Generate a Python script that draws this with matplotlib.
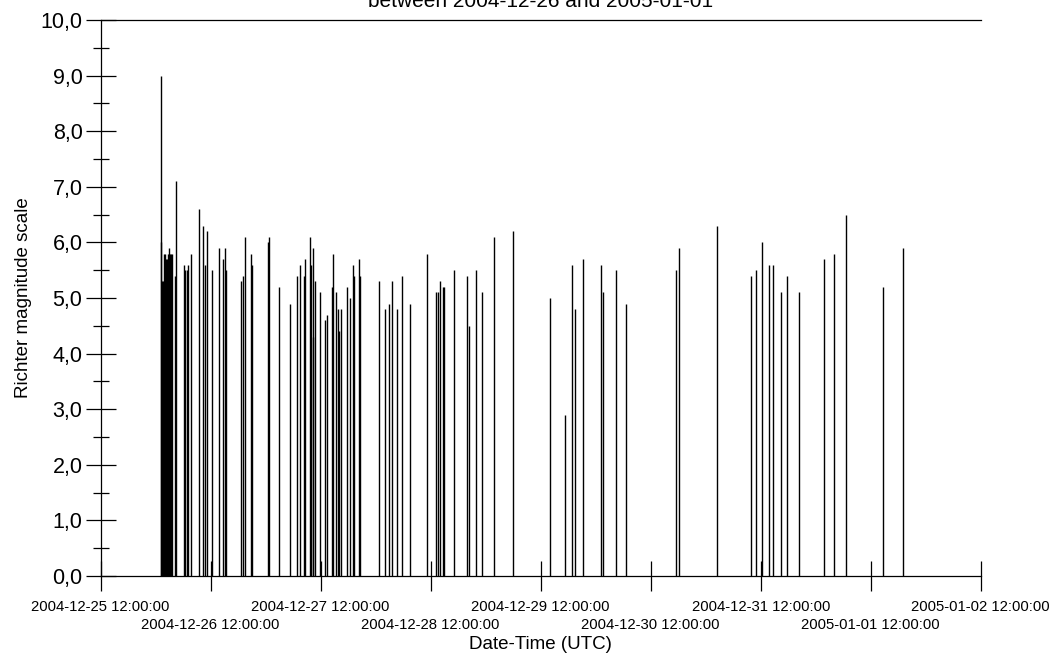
# -*- coding: utf-8 -*-
import matplotlib
matplotlib.use('Agg')
import matplotlib.pyplot as plt
import matplotlib.dates as mdates
from matplotlib.ticker import MultipleLocator
import numpy as np
from datetime import datetime

# event times (UTC) and magnitudes
times = [
	"2004-12-26 01:11", "2004-12-26 01:17", "2004-12-26 01:30", "2004-12-26 01:43",
	"2004-12-26 01:54", "2004-12-26 02:03", "2004-12-26 02:16", "2004-12-26 02:29",
	"2004-12-26 02:38", "2004-12-26 02:49", "2004-12-26 02:59", "2004-12-26 03:08",
	"2004-12-26 03:17", "2004-12-26 03:28", "2004-12-26 04:14", "2004-12-26 04:27",
	"2004-12-26 06:08", "2004-12-26 06:25", "2004-12-26 06:47", "2004-12-26 07:08",
	"2004-12-26 07:47", "2004-12-26 09:24", "2004-12-26 10:16", "2004-12-26 10:50",
	"2004-12-26 11:08", "2004-12-26 12:14", "2004-12-26 13:53", "2004-12-26 14:42",
	"2004-12-26 15:04", "2004-12-26 15:17", "2004-12-26 18:34", "2004-12-26 19:08",
	"2004-12-26 19:26", "2004-12-26 20:52", "2004-12-26 21:05",
	"2004-12-27 00:27", "2004-12-27 00:44", "2004-12-27 02:59", "2004-12-27 05:15",
	"2004-12-27 06:47", "2004-12-27 07:34", "2004-12-27 08:18", "2004-12-27 08:31",
	"2004-12-27 09:37", "2004-12-27 09:50", "2004-12-27 10:16", "2004-12-27 10:24",
	"2004-12-27 10:50", "2004-12-27 11:56", "2004-12-27 12:57", "2004-12-27 13:27",
	"2004-12-27 14:25", "2004-12-27 14:38", "2004-12-27 15:17", "2004-12-27 15:43",
	"2004-12-27 15:56", "2004-12-27 16:23", "2004-12-27 17:41", "2004-12-27 18:20",
	"2004-12-27 19:07", "2004-12-27 19:20", "2004-12-27 20:18", "2004-12-27 20:31",
	"2004-12-28 00:40", "2004-12-28 02:02", "2004-12-28 02:51", "2004-12-28 03:30",
	"2004-12-28 04:35", "2004-12-28 05:41", "2004-12-28 07:29", "2004-12-28 11:16",
	"2004-12-28 13:10", "2004-12-28 13:40", "2004-12-28 14:02", "2004-12-28 14:38",
	"2004-12-28 14:50", "2004-12-28 17:05", "2004-12-28 19:52", "2004-12-28 20:26",
	"2004-12-28 21:49", "2004-12-28 23:12",
	"2004-12-29 01:45", "2004-12-29 05:54", "2004-12-29 13:58", "2004-12-29 17:18",
	"2004-12-29 18:46", "2004-12-29 19:33", "2004-12-29 21:10",
	"2004-12-30 01:05", "2004-12-30 01:40", "2004-12-30 04:26", "2004-12-30 06:41",
	"2004-12-30 17:31", "2004-12-30 18:07",
	"2004-12-31 02:24", "2004-12-31 09:53", "2004-12-31 11:02", "2004-12-31 12:13",
	"2004-12-31 13:48", "2004-12-31 14:37", "2004-12-31 16:22", "2004-12-31 17:44",
	"2004-12-31 20:21",
	"2005-01-01 01:48", "2005-01-01 04:03", "2005-01-01 06:32", "2005-01-01 14:37",
	"2005-01-01 19:06",
]
magnitudes = [
	9.0, 6.0, 5.3, 5.3, 5.8, 5.8, 5.7, 5.7, 5.8, 5.8, 5.9, 5.8, 5.8, 5.8, 5.4, 7.1,
	5.6, 5.5, 5.5, 5.6, 5.8, 6.6, 6.3, 5.6, 6.2, 5.5, 5.9, 5.7, 5.9, 5.5, 5.3, 5.4,
	6.1, 5.8, 5.6,
	6.0, 6.1, 5.2, 4.9, 5.4, 5.6, 5.4, 5.7, 6.1, 5.6, 5.9, 4.3, 5.3, 5.1, 4.6, 4.7,
	5.2, 5.8, 5.1, 4.8, 4.4, 4.8, 5.2, 5.0, 5.6, 5.4, 5.7, 5.4,
	5.3, 4.8, 4.9, 5.3, 4.8, 5.4, 4.9, 5.8, 5.1, 5.1, 5.3, 5.2, 5.2, 5.5, 5.4, 4.5,
	5.5, 5.1,
	6.1, 6.2, 5.0, 2.9, 5.6, 4.8, 5.7,
	5.6, 5.1, 5.5, 4.9, 5.5, 5.9,
	6.3, 5.4, 5.5, 6.0, 5.6, 5.6, 5.1, 5.4, 5.1,
	5.7, 5.8, 6.5, 5.2, 5.9,
]

x_start = "2004-12-25 12:00"
x_end = "2005-01-02 12:00"
y_ticks = [0, 1, 2, 3, 4, 5, 6, 7, 8, 9, 10]
y_labels = ["0,0", "1,0", "2,0", "3,0", "4,0", "5,0", "6,0", "7,0", "8,0", "9,0", "10,0"]


def parse(s):
	return datetime.strptime(s, "%Y-%m-%d %H:%M")


def main():
	plt.rcParams['font.family'] = ['Liberation Sans', 'DejaVu Sans']

	fig = plt.figure(figsize=(10.64, 6.55), dpi=100)
	ax = fig.add_axes([100.6 / 1064, 1 - 576 / 655, 880.2 / 1064, 556 / 655])

	t = [parse(s) for s in times]
	ax.vlines(t, 0, magnitudes, colors='black', linewidth=1.0)

	t0, t1 = parse(x_start), parse(x_end)
	ax.set_xlim(t0, t1)
	ax.set_ylim(0, 10)

	# one tick per day at noon: even days on the first label row (major),
	# odd days on the second row (minor, bigger pad)
	days = [mdates.date2num(t0) + k for k in range(9)]
	fmt = "%Y-%m-%d %H:%M:%S"
	upper = days[0::2]
	lower = days[1::2]
	ax.set_xticks(upper)
	ax.set_xticklabels([mdates.num2date(v).strftime(fmt) for v in upper], fontsize=10.7)
	ax.set_xticks(lower, minor=True)
	ax.set_xticklabels([mdates.num2date(v).strftime(fmt) for v in lower], minor=True, fontsize=10.7)

	ax.set_yticks(y_ticks)
	ax.set_yticklabels(y_labels, fontsize=15.5)
	ax.yaxis.set_minor_locator(MultipleLocator(0.5))

	ax.tick_params(axis='both', which='major', direction='inout', length=22, width=0.9)
	ax.tick_params(axis='y', which='minor', direction='inout', length=12, width=0.9)
	ax.tick_params(axis='x', which='major', pad=6)
	ax.tick_params(axis='x', which='minor', direction='inout', length=22, width=0.9, pad=19)
	ax.tick_params(axis='y', pad=2)

	ax.spines['right'].set_visible(False)
	for sp in ['left', 'bottom', 'top']:
		ax.spines[sp].set_linewidth(0.9)

	ax.set_xlabel('Date-Time (UTC)', fontsize=13.5, labelpad=3)
	ax.set_ylabel('Richter magnitude scale', fontsize=13.5, labelpad=6)

	# title is cut off at the top of the image, only its last line shows
	fig.text(540.7 / 1064, 1 - 7 / 655, 'between 2004-12-26 and 2005-01-01',
			 ha='center', va='baseline', fontsize=15)

	fig.savefig('out.png', dpi=100)


if __name__ == "__main__":
	main()
